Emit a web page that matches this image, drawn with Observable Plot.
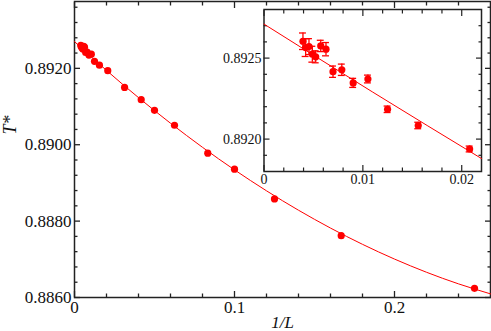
<!DOCTYPE html>
<html><head><meta charset="utf-8">
<script src="https://cdn.jsdelivr.net/npm/d3@7"></script>
<script src="https://cdn.jsdelivr.net/npm/@observablehq/plot@0.6"></script>
<style>
body{margin:0;background:#fff;}
#wrap{position:relative;width:491px;height:331px;overflow:hidden;}
#wrap svg{position:absolute;}
#wrap svg, #wrap svg text{font-family:'Liberation Serif','Times New Roman',serif !important;}
</style></head><body><div id="wrap"></div>
<script>
// ---- data ----
const invL = [0.00394,0.00421,0.00455,0.00489,0.00523,0.00574,0.00627,0.00698,0.00787,0.00902,0.01051,0.0125,0.0156,0.0208,
              0.0313,0.0417,0.0500,0.0625,0.0833,0.1000,0.1250,0.1667,0.2500];
const Tstar = [0.892604,0.892565,0.892571,0.892524,0.892508,0.892575,0.892555,0.892416,0.892428,0.892347,0.892371,0.892184,0.892084,0.891939,
               0.89150,0.89118,0.89090,0.89051,0.88978,0.88936,0.88858,0.88762,0.88624];
const Terr = [0.000051,0.000055,0.000049,0.000049,0.000037,0.000035,0.000041,0.000035,0.000035,0.000028,0.000024,0.00002,0.00002,0.000018,
              null,null,null,null,null,null,null,null,null];
// fitted curve
const fitX = [0,0.02,0.04,0.06,0.08,0.10,0.12,0.14,0.16,0.18,0.20,0.22,0.24,0.26];
const fitT = [0.89270,0.891946,0.891234,0.890563,0.889932,0.889342,0.888793,0.888285,0.887818,0.887392,0.887006,0.886661,0.886357,0.886095];
const insetFitX = [0,0.011,0.022];
const insetFitT = [0.89271,0.89229,0.89188];
// ticks
const xMajor = [0,0.1,0.2], xMajorLabels = ["0","0.1","0.2"];
const xMinor = [0.02,0.04,0.06,0.08,0.12,0.14,0.16,0.18,0.22,0.24];
const yMajor = [0.886,0.888,0.890,0.892], yMajorLabels = ["0.8860","0.8880","0.8900","0.8920"];
const yMinor = [0.8864,0.8868,0.8872,0.8876,0.8884,0.8888,0.8892,0.8896,0.8904,0.8908,0.8912,0.8916,0.8924,0.8928,0.8932,0.8936];
const ixMajor = [0,0.01,0.02], ixMajorLabels = ["0","0.01","0.02"];
const ixMinor = [0.002,0.004,0.006,0.008,0.012,0.014,0.016,0.018];
const iyMajor = [0.8920,0.8925], iyMajorLabels = ["0.8920","0.8925"];
const iyMinor = [0.8919,0.8921,0.8922,0.8923,0.8924,0.8926,0.8927];
const xTitle = "1/L", yTitle = "T*";

const pts = invL.map((x,i)=>({x, T:Tstar[i], e:Terr[i]}));
const fit = fitX.map((x,i)=>({x, T:fitT[i]}));
const insetFit = insetFitX.map((x,i)=>({x, T:insetFitT[i]}));
const insetPts = pts.filter(d=>d.e!=null);

const RED = "#ff0000", AX = "#222";
const font = "'Liberation Serif', 'Times New Roman', serif";
const lab = (vals, labels) => d => labels[vals.indexOf(d)];
const blank = () => "";

function tickSet(xMaj, xMin, yMaj, yMin, big, small, sw){
  const o = {stroke: AX, strokeWidth: sw, label: null, tickFormat: blank};
  return [
    Plot.axisX(xMaj, {...o, anchor:"bottom", tickSize:-big}),
    Plot.axisX(xMin, {...o, anchor:"bottom", tickSize:-small}),
    Plot.axisX(xMaj, {...o, anchor:"top", tickSize:-big}),
    Plot.axisX(xMin, {...o, anchor:"top", tickSize:-small}),
    Plot.axisY(yMaj, {...o, anchor:"left", tickSize:-big}),
    Plot.axisY(yMin, {...o, anchor:"left", tickSize:-small}),
    Plot.axisY(yMaj, {...o, anchor:"right", tickSize:-big}),
    Plot.axisY(yMin, {...o, anchor:"right", tickSize:-small}),
  ];
}

const main = Plot.plot({
  width: 491, height: 331,
  marginLeft: 74, marginRight: 1, marginTop: 1, marginBottom: 34,
  style: {fontFamily: font, fontSize: "17px", background: "transparent", color: "#111"},
  x: {domain: [0, 0.26]},
  y: {domain: [0.886, 0.89375]},
  marks: [
    Plot.frame({stroke: AX, strokeWidth: 1.5}),
    ...tickSet(xMajor, xMinor, yMajor, yMinor, 6, 3.5, 1.3),
    Plot.axisX(xMajor, {anchor:"bottom", tickSize:0, tickPadding:3, tickFormat: lab(xMajor,xMajorLabels), label:null, fontSize:17, fontFamily: font}),
    Plot.axisY(yMajor, {anchor:"left", tickSize:0, tickPadding:3, tickFormat: lab(yMajor,yMajorLabels), label:null, fontSize:17, fontFamily: font}),
    Plot.line(fit, {x:"x", y:"T", stroke: RED, strokeWidth: 1, curve: "natural"}),
    Plot.dot(pts, {x:"x", y:"T", r:3.6, fill: RED}),
    Plot.text([xTitle], {text: d=>d, frameAnchor:"bottom", dy: 25, fontStyle:"italic", fontSize:17, lineAnchor:"middle", fontFamily: font}),
    Plot.text([yTitle], {text: d=>d, frameAnchor:"left", dx: -64, dy: -15, rotate: -90, fontStyle:"italic", fontSize:18, lineAnchor:"middle", fontFamily: font})
  ]
});

const inset = Plot.plot({
  width: 265, height: 192,
  marginLeft: 45.5, marginRight: 2, marginTop: 9, marginBottom: 21,
  style: {fontFamily: font, fontSize: "14px", background: "transparent", color: "#111"},
  x: {domain: [0, 0.022]},
  y: {domain: [0.8918, 0.8928]},
  marks: [
    Plot.frame({fill: "white", stroke: AX, strokeWidth: 1.5}),
    ...tickSet(ixMajor, ixMinor, iyMajor, iyMinor, 6, 3.5, 1.2),
    Plot.axisX(ixMajor, {anchor:"bottom", tickSize:0, tickPadding:3, tickFormat: lab(ixMajor,ixMajorLabels), label:null, fontSize:14, fontFamily: font}),
    Plot.axisY(iyMajor, {anchor:"left", tickSize:0, tickPadding:2.5, tickFormat: lab(iyMajor,iyMajorLabels), label:null, fontSize:14, fontFamily: font}),
    Plot.line(insetFit, {x:"x", y:"T", stroke: RED, strokeWidth: 1, curve: "natural"}),
    Plot.ruleX(insetPts, {x:"x", y1: d=>d.T-d.e, y2: d=>d.T+d.e, stroke: RED, strokeWidth: 1.3}),
    Plot.ruleY(insetPts, {y: d=>d.T+d.e, x1: d=>d.x-0.00035, x2: d=>d.x+0.00035, stroke: RED, strokeWidth: 1.3}),
    Plot.ruleY(insetPts, {y: d=>d.T-d.e, x1: d=>d.x-0.00035, x2: d=>d.x+0.00035, stroke: RED, strokeWidth: 1.3}),
    Plot.dot(insetPts, {x:"x", y:"T", r:3.6, fill: RED})
  ]
});

const wrap = document.getElementById("wrap");
main.style.left = "0px"; main.style.top = "0px";
inset.style.left = "218px"; inset.style.top = "0px";
wrap.appendChild(main);
wrap.appendChild(inset);
</script>
</body></html>
